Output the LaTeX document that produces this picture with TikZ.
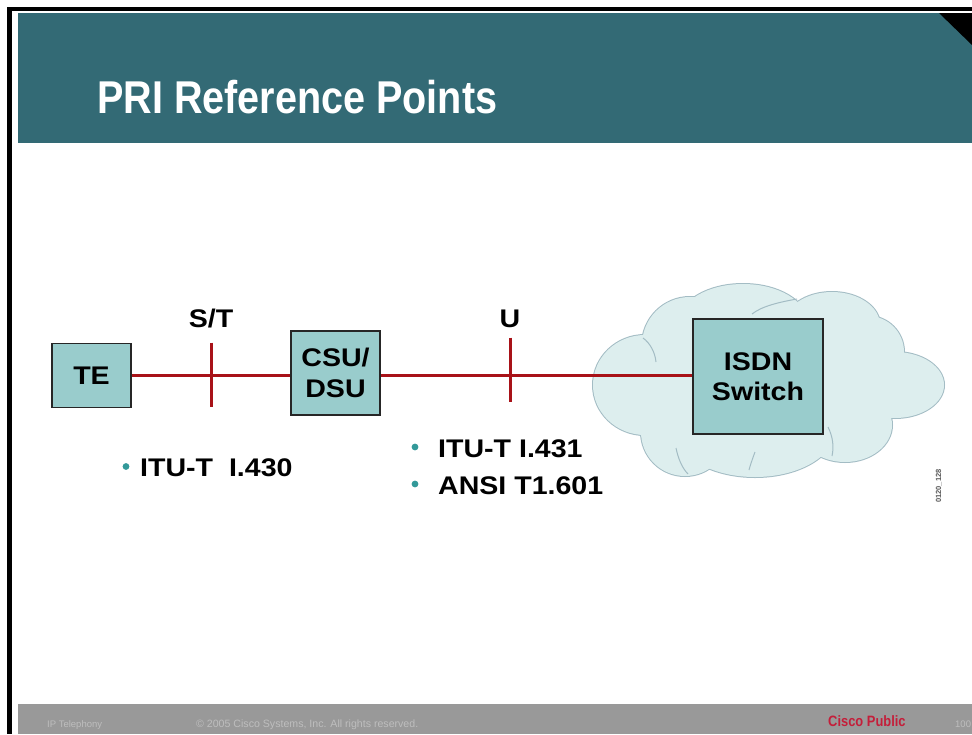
\documentclass[tikz,border=0pt]{standalone}
\usepackage{fontspec}
\setmainfont{Liberation Sans}
\newfontfamily\widefont{Liberation Sans}[FakeStretch=1.12]
\newfontfamily\narrowfont{Liberation Sans}[FakeStretch=0.86]
\usetikzlibrary{calc}
\definecolor{slideteal}{RGB}{51,106,117}
\definecolor{boxteal}{RGB}{153,204,204}
\definecolor{linkred}{RGB}{168,18,24}
\definecolor{cloudfill}{RGB}{221,238,238}
\definecolor{cloudedge}{RGB}{163,188,196}
\definecolor{dotteal}{RGB}{51,153,153}
\definecolor{footgray}{RGB}{153,153,153}
\definecolor{foottext}{RGB}{190,190,190}
\definecolor{ciscored}{RGB}{196,30,58}

\begin{document}
\begin{tikzpicture}[x=1pt,y=-1pt,
  devbox/.style={draw=black!85,line width=1.4pt,fill=boxteal,inner sep=0pt,align=center,
    font=\widefont\bfseries\fontsize{25.5}{30}\selectfont},
  reflabel/.style={inner sep=0pt,anchor=base,font=\widefont\bfseries\fontsize{25.5}{30}\selectfont},
  stdlabel/.style={inner sep=0pt,anchor=base west,font=\widefont\bfseries\fontsize{25.5}{30}\selectfont},
  link/.style={draw=linkred,line width=3pt},
  crease/.style={draw=cloudedge,line width=1pt},
  foot/.style={inner sep=0pt,anchor=base west,text=foottext,font=\fontsize{9.5}{11}\selectfont}]

\useasboundingbox (0,0) rectangle (972,734);
\fill[white] (0,0) rectangle (972,734);

\fill (7,7) rectangle (972,11);
\fill (7,7) rectangle (12,734);
\fill[slideteal] (18,13) rectangle (972,143);
\fill (939,13) -- (972,13) -- (972,45) -- cycle;
\node[anchor=base west,inner sep=0pt,text=white,font=\narrowfont\bfseries\fontsize{46}{50}\selectfont] (title) at (97,113) {PRI Reference Points};

\begin{scope}
\def\puffs{645/385/52/50, 690/345/48/48, 743/322/64/38, 832/325/48/33, 868/352/36/36, 895/385/49/33, 845/425/47/37, 755/430/80/47, 685/432/44/44, 770/385/110/75}
\foreach \cx/\cy/\rx/\ry in \puffs
  \draw[cloudedge,line width=2pt] (\cx,\cy) ellipse ({\rx} and {\ry});
\foreach \cx/\cy/\rx/\ry in \puffs
  \fill[cloudfill] (\cx,\cy) ellipse ({\rx} and {\ry});
\draw[crease] (797,299) .. controls (780,302) and (762,306) .. (752,314);
\draw[crease] (643,338) .. controls (650,343) and (655,352) .. (656,362);
\draw[crease] (676,448) .. controls (678,458) and (682,468) .. (688,474);
\draw[crease] (755,452) .. controls (752,460) and (750,466) .. (749,470);
\draw[crease] (828,427) .. controls (833,437) and (834,447) .. (832,456);
\end{scope}

\node[devbox,minimum width=79pt,minimum height=64pt] (te) at (91.5,375.5) {TE};
\node[devbox,minimum width=89pt,minimum height=84pt] (csu) at (335.5,373) {CSU/\\[1pt]DSU};
\node[devbox,minimum width=130pt,minimum height=115pt] (sw) at (758,376.5) {ISDN\\Switch};

\draw[link] (te.east) -- (te.east -| csu.west);
\draw[link] (csu.east |- te.east) -- (te.east -| sw.west);

\coordinate (st) at ($(te.east)!0.5!(csu.west |- te.east)$);
\coordinate (u) at ($(csu.east |- te.east)!0.415!(sw.west |- te.east)$);
\draw[link] ($(st)+(0,-33)$) -- ($(st)+(0,31)$);
\draw[link] ($(u)+(0,-38)$) -- ($(u)+(0,26)$);
\node[reflabel] (stlab) at ($(st)+(0,-48)$) {S/T};
\node[reflabel] (ulab) at ($(u)+(0,-48)$) {U};

\fill[dotteal] (126,466.5) circle (3.4);
\node[stdlabel] (itu430) at (140,476) {ITU-T~~I.430};
\foreach \txt/\yy [count=\i] in {ITU-T I.431/457, ANSI T1.601/494} {
\fill[dotteal] (415,\yy-10) circle (3.4);
\node[stdlabel] (std\i) at (438,\yy) {\txt};
}

\node[rotate=90,inner sep=0pt,text=black!65,font=\bfseries\fontsize{7.5}{8}\selectfont] (code) at (939,486) {0120\_128};

\fill[footgray] (18,704) rectangle (972,734);
\node[foot] (ftopic) at (47,727) {IP Telephony};
\node[foot,font=\fontsize{10.6}{12}\selectfont] (fcopy) at (196,727) {© 2005 Cisco Systems, Inc. All rights reserved.};
\node[foot,text=ciscored,font=\narrowfont\bfseries\fontsize{15}{16}\selectfont] (fclass) at (828,726) {Cisco Public};
\node[foot] (fpage) at (955,727) {100};
\end{tikzpicture}
\end{document}
